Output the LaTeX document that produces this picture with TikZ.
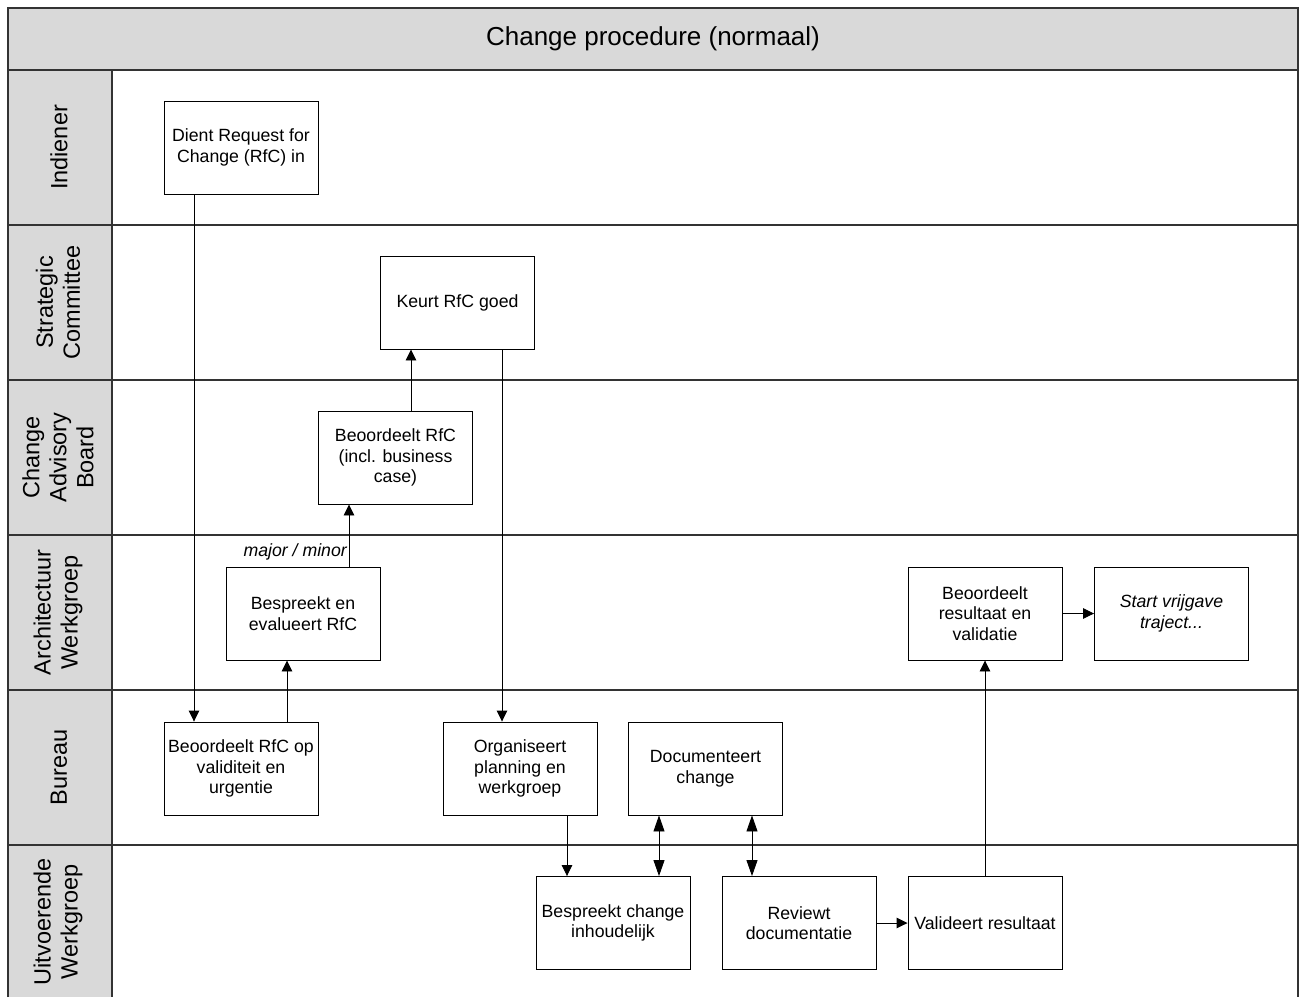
\documentclass[tikz,border=0pt]{standalone}
\usepackage{fontspec}
\setmainfont{Liberation Sans}
\usetikzlibrary{arrows.meta}
\definecolor{lanegray}{HTML}{D9D9D9}
\definecolor{framecol}{HTML}{333333}
\tikzset{
  stepbox/.style={draw=black, line width=0.9pt, fill=white, minimum width=154pt, minimum height=93pt,
    inner sep=0pt, align=center, font=\fontsize{17.7}{20.5}\selectfont},
  lanelabel/.style={rotate=90, align=center, font=\fontsize{23.5}{27}\selectfont},
  flow/.style={line width=0.9pt, -{Triangle[length=11pt,width=10.5pt]}},
  biflow/.style={line width=0.9pt, {Triangle[length=16pt,width=11pt]}-{Triangle[length=16pt,width=11pt]}},
  frame/.style={draw=framecol, line width=2pt}
}
\begin{document}
\begin{tikzpicture}[x=1pt,y=-1pt]
\useasboundingbox (0,0) rectangle (1299,997);
% backgrounds
\fill[lanegray] (8,8) rectangle (1298,70);
\fill[lanegray] (8,70) rectangle (112,997);
% frame lines
\draw[frame] (8,997) -- (8,8) -- (1298,8) -- (1298,997);
\foreach \yy in {70,225,380,535,690,845} {\draw[frame] (8,\yy) -- (1298,\yy);}
\draw[frame] (112,70) -- (112,997);
% title
\node[font=\fontsize{26}{30}\selectfont] (title) at (653,39) {Change procedure (normaal)};
% lane labels
\node[lanelabel] (l1) at (59,147.5) {Indiener};
\node[lanelabel] (l2) at (58,302.5) {Strategic\\Committee};
\node[lanelabel] (l3) at (58,457.5) {Change\\Advisory\\Board};
\node[lanelabel] (l4) at (58,612.5) {Architectuur\\Werkgroep};
\node[lanelabel] (l5) at (59,767.5) {Bureau};
\node[lanelabel] (l6) at (58,922) {Uitvoerende\\Werkgroep};
% boxes
\node[stepbox] (dient) at (241,147.5) {Dient Request for\\Change (RfC) in};
\node[stepbox] (keurt) at (457.5,302.5) {Keurt RfC goed};
\node[stepbox] (cab) at (395.5,457.5) {Beoordeelt RfC\\(incl. business\\case)};
\node[stepbox] (besp) at (303,613.5) {Bespreekt en\\evalueert RfC};
\node[stepbox] (beor) at (985,613.5) {Beoordeelt\\resultaat en\\validatie};
\node[stepbox] (start) at (1171.5,613.5) {\itshape Start vrijgave\\\itshape traject...};
\node[stepbox] (beo1) at (241,768.5) {Beoordeelt RfC op\\validiteit en\\urgentie};
\node[stepbox] (org) at (520,768.5) {Organiseert\\planning en\\werkgroep};
\node[stepbox] (doc) at (705.5,768.5) {Documenteert\\change};
\node[stepbox] (bci) at (613,923) {Bespreekt change\\inhoudelijk};
\node[stepbox] (rev) at (799,923) {Reviewt\\documentatie};
\node[stepbox] (val) at (985,923) {Valideert resultaat};
% connectors
\draw[flow] ([xshift=-47pt]dient.south) -- ([xshift=-47pt]beo1.north);
\draw[flow] ([xshift=46pt]beo1.north) -- ([xshift=46pt]beo1.north |- besp.south);
\draw[flow] ([xshift=46pt]besp.north) -- ([xshift=46pt]besp.north |- cab.south);
\node[anchor=base east, inner sep=0pt, font=\fontsize{17.7}{20.5}\selectfont\itshape] (mm) at ([xshift=44pt,yshift=10pt]besp.north) {major / minor};
\draw[flow] ([xshift=15.5pt]cab.north) -- ([xshift=15.5pt]cab.north |- keurt.south);
\draw[flow] ([xshift=44.5pt]keurt.south) -- ([xshift=44.5pt]keurt.south |- org.north);
\draw[flow] ([xshift=47pt]org.south) -- ([xshift=47pt]org.south |- bci.north);
\draw[biflow] ([xshift=-46.5pt]doc.south) -- ([xshift=-46.5pt]doc.south |- bci.north);
\draw[biflow] ([xshift=46.5pt]doc.south) -- ([xshift=46.5pt]doc.south |- rev.north);
\draw[flow] (rev.east) -- (val.west);
\draw[flow] (val.north) -- (beor.south);
\draw[flow] (beor.east) -- (start.west);
\end{tikzpicture}
\end{document}
